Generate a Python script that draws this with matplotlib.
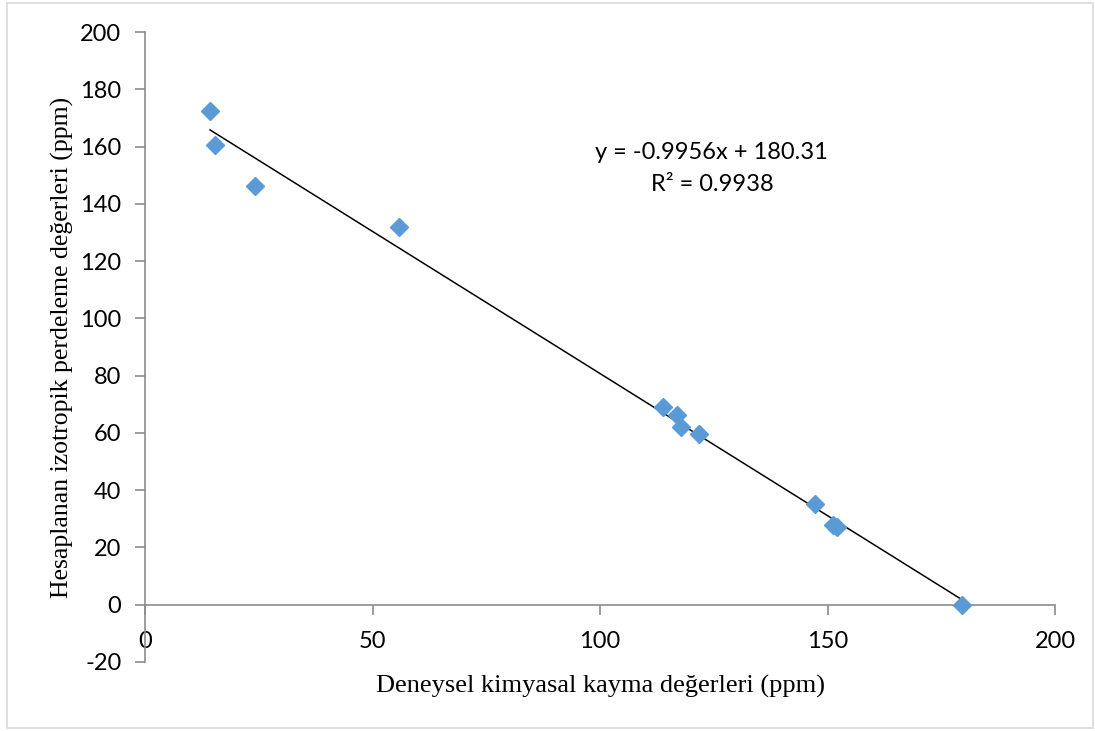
import numpy as np
import matplotlib.pyplot as plt
from matplotlib.patches import Rectangle

# deneysel ve hesaplanan değerler (ppm)
deneysel = [14.3, 15.4, 24.2, 55.8, 113.8, 116.9, 117.8, 121.8, 147.3, 151.2, 152.1, 179.6]
hesaplanan = [172.4, 160.6, 146.2, 131.9, 69.1, 66.3, 62.1, 59.7, 35.3, 27.9, 27.2, 0.0]

x_ticks = [0, 50, 100, 150, 200]
y_ticks = [-20, 0, 20, 40, 60, 80, 100, 120, 140, 160, 180, 200]

denklem = "y = -0.9956x + 180.31"
r_kare = "R² = 0.9938"

plt.rcParams['axes.unicode_minus'] = False

fig = plt.figure(figsize=(10.95, 7.31), dpi=100)
ax = fig.add_axes([145 / 1095, (731 - 662) / 731, 910 / 1095, 630 / 731])

# çerçeve
fig.patches.append(Rectangle((7 / 1095, 3 / 731), 1086 / 1095, 725 / 731,
                             transform=fig.transFigure, fill=False,
                             edgecolor='#d9d9d9', linewidth=1.2))

x = np.array(deneysel)
y = np.array(hesaplanan)
egim, kesen = np.polyfit(x, y, 1)
xs = np.array([x.min(), x.max()])
ax.plot(xs, egim * xs + kesen, color='black', linewidth=1.1, zorder=2)
ax.plot(x, y, linestyle='none', marker='D', markersize=9.5,
        color='#5b9bd5', markeredgecolor='#5b9bd5', zorder=3)

ax.set_xlim(0, 200)
ax.set_ylim(-20, 200)
ax.set_xticks(x_ticks)
ax.set_yticks(y_ticks)

for s in ['top', 'right']:
    ax.spines[s].set_visible(False)
ax.spines['bottom'].set_position(('data', 0))
for s in ['left', 'bottom']:
    ax.spines[s].set_color('#8c8c8c')
    ax.spines[s].set_linewidth(1.2)

tick_font = 'Lato'
ax.tick_params(axis='both', direction='out', length=7, width=1.2, color='#8c8c8c',
               labelsize=17, labelcolor='black')
ax.tick_params(axis='x', pad=12)
ax.tick_params(axis='y', pad=10)
for lbl in ax.get_xticklabels() + ax.get_yticklabels():
    lbl.set_fontfamily(tick_font)

ax.text(124.6, 158, denklem, ha='center', va='center', fontsize=17, family=tick_font)
ax.text(124.6, 146.6, r_kare, ha='center', va='center', fontsize=17, family=tick_font)

fig.text(600 / 1095, 1 - 686 / 731, "Deneysel kimyasal kayma değerleri (ppm)",
         ha='center', va='center', fontsize=19, family='Liberation Serif')
fig.text(62 / 1095, 1 - 347 / 731, "Hesaplanan izotropik perdeleme değerleri (ppm)",
         ha='center', va='center', rotation=90, fontsize=18.5, family='Liberation Serif')

fig.savefig('out.png', dpi=100)
